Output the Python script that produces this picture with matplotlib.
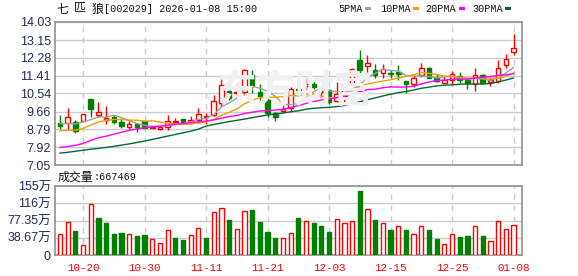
import matplotlib
matplotlib.use('Agg')
import matplotlib.pyplot as plt
from matplotlib.patches import Rectangle
import numpy as np
import pandas as pd

# trading days shown (holidays 01-01, 01-02 removed)
dates = [d.strftime('%m-%d') for d in pd.bdate_range('2025-10-15', '2026-01-08')
         if d.strftime('%m-%d') not in ('01-01', '01-02')]
tick_labels = ['10-20', '10-30', '11-11', '11-21', '12-03', '12-15', '12-25', '01-08']

opens = [9.08, 9.11, 9.17, 9.20, 10.26, 9.50, 9.27, 9.40, 9.16, 8.92,
         9.06, 9.19, 8.86, 8.81, 8.90, 9.17, 9.29, 9.13, 9.24, 9.40,
         9.48, 10.10, 10.65, 10.57, 10.62, 11.42, 10.59, 10.21, 9.57, 9.69,
         9.85, 10.78, 10.93, 11.02, 10.60, 10.73, 10.18, 10.40, 10.99, 12.16,
         11.88, 11.70, 11.56, 11.54, 11.59, 11.14, 10.99, 11.46, 11.77, 11.30,
         11.05, 11.18, 11.41, 11.22, 11.02, 11.46, 11.10, 11.15, 11.91, 12.56]
highs = [9.48, 9.81, 9.27, 9.55, 10.27, 10.13, 9.92, 9.50, 9.32, 9.27,
         9.10, 9.22, 8.95, 8.96, 9.48, 9.35, 9.30, 9.45, 9.84, 9.60,
         10.45, 11.25, 11.12, 11.07, 11.72, 11.70, 11.00, 10.40, 9.66, 9.97,
         10.86, 11.25, 11.31, 11.27, 10.86, 10.78, 11.10, 10.86, 11.77, 12.68,
         12.40, 11.99, 12.00, 11.70, 11.91, 11.15, 11.45, 12.03, 11.83, 11.51,
         11.37, 11.63, 11.58, 11.30, 11.80, 11.47, 11.35, 12.16, 12.45, 13.45]
lows = [8.80, 8.79, 8.59, 9.18, 9.40, 9.38, 9.04, 9.06, 8.88, 8.79,
        8.67, 8.86, 8.84, 8.78, 8.75, 9.11, 9.10, 9.10, 9.08, 9.07,
        9.42, 9.95, 10.20, 10.37, 10.45, 10.55, 10.10, 9.40, 9.20, 9.59,
        9.65, 10.62, 10.70, 10.78, 10.35, 10.05, 10.13, 10.05, 10.97, 11.55,
        11.60, 11.32, 11.32, 11.32, 11.18, 10.58, 10.85, 11.34, 11.28, 11.10,
        11.02, 10.94, 11.05, 10.78, 10.67, 11.04, 10.90, 11.06, 11.80, 12.40]
closes = [8.96, 9.37, 8.70, 9.53, 9.76, 9.63, 9.32, 9.15, 8.95, 9.04,
          8.92, 8.88, 8.91, 8.92, 9.22, 9.20, 9.13, 9.27, 9.56, 9.45,
          10.16, 10.94, 10.32, 10.63, 11.70, 10.90, 10.42, 9.59, 9.40, 9.76,
          10.78, 10.73, 11.02, 10.86, 10.64, 10.13, 10.50, 10.70, 11.75, 11.68,
          12.04, 11.44, 11.74, 11.47, 11.48, 10.98, 11.28, 11.80, 11.30, 11.15,
          11.22, 11.49, 11.18, 11.05, 11.46, 11.05, 11.18, 11.80, 12.24, 12.78]
prev_close = 8.90  # close before the first bar (first volume bar is red)

# volume, in 万
volumes = [47.2, 73.4, 53.9, 21.7, 114.6, 82.4, 72.6, 47.2, 50.1, 47.2,
           42.7, 44.9, 35.2, 27.0, 55.4, 38.9, 33.7, 44.9, 61.0, 37.4,
           95.9, 104.8, 78.6, 57.7, 98.1, 101.1, 74.1, 51.7, 38.2, 37.4,
           49.4, 83.1, 75.6, 71.9, 65.1, 51.7, 80.1, 71.9, 75.6, 143.8,
           102.6, 78.6, 71.9, 56.2, 65.1, 56.2, 47.2, 65.1, 56.2, 35.9,
           24.7, 47.2, 40.4, 42.7, 65.1, 42.7, 31.4, 76.4, 58.4, 66.7]
last_volume = '667469'

# moving-average values before enough bars are on screen
ma5_head = [9.07, 9.07, 9.05, 9.15]
ma10_head = [8.72, 8.74, 8.75, 8.83, 9.00, 9.15, 9.23, 9.27, 9.27]
ma20_head = [7.91, 7.95, 8.01, 8.10, 8.25, 8.38, 8.46, 8.55, 8.65, 8.74,
             8.81, 8.87, 8.91, 8.95, 9.00, 9.04, 9.08, 9.12, 9.15]
ma30_head = [7.63, 7.67, 7.72, 7.77, 7.82, 7.86, 7.91, 7.96, 8.02, 8.08,
             8.15, 8.22, 8.30, 8.38, 8.46, 8.54, 8.62, 8.70, 8.80, 8.95,
             9.03, 9.10, 9.17, 9.23, 9.29, 9.36, 9.43, 9.49, 9.54]

price_ticks = [7.05, 7.92, 8.79, 9.66, 10.54, 11.41, 12.28, 13.15, 14.03]
vol_ticks = [0, 38.67, 77.35, 116.02, 154.7]
vol_tick_labels = ['0', '38.67万', '77.35万', '116万', '155万']

RED = '#ff0000'
GREEN = '#008000'
GRID = '#cccccc'
EDGE = '#999999'
LABEL = '#202c58'
W, H = 578, 276


def moving_average(vals, n, head):
    ma = pd.Series(vals).rolling(n).mean().to_numpy()
    ma[:n - 1] = head
    return ma


def fx(x):
    return x / W


def fy(y):
    return 1 - y / H


fig = plt.figure(figsize=(W / 100, H / 100), dpi=100)
ax = fig.add_axes([fx(55), fy(165), fx(467), 143 / H])
ax2 = fig.add_axes([fx(55), fy(255), fx(467), 69 / H])

x = np.arange(len(closes))
tick_pos = [dates.index(t) for t in tick_labels]
xlim = (-0.65, len(closes) - 1 + 1.1)

# faint watermark
fig.text(fx(295), fy(92), '东方财富', fontsize=28, color='#f0f0f0', fontweight='bold',
         family=['Noto Sans CJK SC'], ha='center', va='center', zorder=0)
ax.patch.set_alpha(0)

# candles
bw = 0.6
for i in x:
    o, h, l, c = opens[i], highs[i], lows[i], closes[i]
    up = c >= o
    col = RED if up else GREEN
    ax.vlines(i, l, h, color=col, lw=1, zorder=3)
    body = max(abs(c - o), 0.015)
    ax.add_patch(Rectangle((i - bw / 2, min(o, c)), bw, body, facecolor='white' if up else GREEN,
                           edgecolor=col, lw=1, zorder=4))

# moving averages
ma_cfg = [(5, ma5_head, '#a0a0a0'), (10, ma10_head, '#f0a000'),
          (20, ma20_head, '#ff00ff'), (30, ma30_head, '#006a35')]
for n, head, col in ma_cfg:
    ax.plot(x, moving_average(closes, n, head), color=col, lw=1, zorder=5)

ax.set_xlim(*xlim)
ax.set_ylim(price_ticks[0], price_ticks[-1])
ax.set_yticks(price_ticks)
ax.set_yticklabels([f'{t:.2f}' for t in price_ticks], family=['Liberation Sans'],
                   fontsize=9, color=LABEL)
ax.set_xticks(tick_pos)
ax.set_xticklabels([])

# volume bars, coloured by change from the previous close
chg = np.diff(np.concatenate([[prev_close], closes]))
for i in x:
    up = chg[i] >= 0
    col = RED if up else GREEN
    ax2.bar(i, volumes[i], width=0.55, facecolor='white' if up else GREEN,
            edgecolor=col, lw=1, zorder=3)
ax2.set_xlim(*xlim)
ax2.set_ylim(0, vol_ticks[-1])
ax2.set_yticks(vol_ticks)
ax2.set_yticklabels(vol_tick_labels, family=['Liberation Sans', 'Noto Sans CJK SC'],
                    fontsize=9, color=LABEL)
ax2.set_xticks(tick_pos)
ax2.set_xticklabels(tick_labels, family=['Liberation Mono'], fontsize=7.8, color=RED)

for a in (ax, ax2):
    a.grid(axis='y', color=GRID, lw=1, ls='-', zorder=0)
    a.grid(axis='x', color=GRID, lw=1, ls=(0, (4, 4)), zorder=0)
    a.tick_params(length=0, pad=3)
    for s in a.spines.values():
        s.set_color(EDGE)
        s.set_linewidth(1.3)
ax2.tick_params(axis='x', pad=6)

# title line: name characters are spaced half-width apart
for k, ch in enumerate('七匹狼'):
    fig.text(fx(56 + 18 * k), fy(9), ch, fontsize=8.6, family=['Noto Sans CJK SC'],
             va='center', color='#111111')
fig.text(fx(104), fy(9), '[002029] 2026-01-08 15:00', fontsize=7.3,
         family=['Liberation Mono'], va='center', color='#111111')

# legend
legend_items = [('5PMA', '#a0a0a0', 338, 365), ('10PMA', '#f0a000', 380, 413),
                ('20PMA', '#ff00ff', 425, 459), ('30PMA', '#006a35', 472, 505)]
for name, col, tx, rx in legend_items:
    fig.text(fx(tx), fy(9), name, fontsize=7.3, family=['Liberation Mono'], va='center', color='#111111')
    fig.patches.append(Rectangle((fx(rx), fy(10)), 6 / W, 3 / H, transform=fig.transFigure,
                                 facecolor=col, edgecolor='none'))

# volume caption
fig.text(fx(58), fy(177), '成交量', fontsize=8.6, family=['Noto Sans CJK SC'], va='center', color='#111111')
fig.text(fx(93), fy(177), ':' + last_volume, fontsize=7.3, family=['Liberation Mono'],
         va='center', color='#111111')

fig.savefig('out.png', dpi=100)
